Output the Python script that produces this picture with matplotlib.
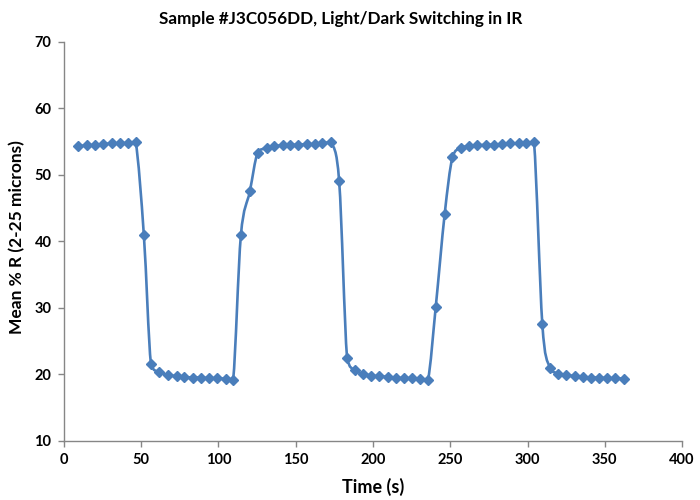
import numpy as np
import matplotlib.pyplot as plt
from matplotlib.path import Path
from matplotlib.patches import PathPatch

# time (s)
time_s = [9.2, 14.7, 20.1, 25.4, 30.9, 36.2, 41.2, 46.4,
          51.7, 56.3,
          61.6, 67.1, 72.9, 77.8, 83.2, 88.4, 93.8, 99.2, 104.6, 109.5,
          114.5, 120.3, 125.3,
          131.1, 136.0, 141.5, 146.6, 151.6, 157.0, 162.4, 167.3, 172.7,
          178.1, 183.2,
          188.2, 193.6, 198.6, 203.9, 209.4, 214.7, 219.9, 225.3, 230.3, 235.6,
          240.6, 246.4, 251.4,
          256.8, 262.2, 267.6, 273.0, 278.3, 283.5, 288.9, 294.3, 299.3, 304.2,
          309.6, 314.4,
          320.0, 325.2, 330.5, 335.9, 341.3, 346.2, 351.7, 356.9, 362.2]

# mean % R (2-25 microns)
mean_r = [54.3, 54.4, 54.5, 54.6, 54.7, 54.7, 54.8, 54.9,
          40.9, 21.5,
          20.3, 19.9, 19.7, 19.6, 19.5, 19.5, 19.4, 19.4, 19.3, 19.2,
          40.9, 47.5, 53.3,
          54.0, 54.3, 54.4, 54.5, 54.5, 54.6, 54.6, 54.7, 54.9,
          49.0, 22.5,
          20.6, 20.1, 19.8, 19.7, 19.6, 19.5, 19.4, 19.4, 19.3, 19.2,
          30.1, 44.1, 52.6,
          54.0, 54.3, 54.4, 54.5, 54.5, 54.6, 54.7, 54.7, 54.8, 54.9,
          27.5, 21.0,
          20.1, 19.9, 19.7, 19.6, 19.5, 19.5, 19.4, 19.4, 19.3]

blue = '#4A7EBB'
grey = '#868686'
font = 'Lato'

fig = plt.figure(figsize=(7, 5), dpi=100)
ax = fig.add_axes([0.0914, 0.1186, 0.8829, 0.798])

# smoothed line like Excel: cubic Bezier through the points,
# control points kept inside each segment so it does not overshoot
p = np.column_stack([time_s, mean_r])
verts = [p[0]]
codes = [Path.MOVETO]
for i in range(len(p) - 1):
    p0 = p[i - 1] if i > 0 else p[i]
    p1, p2 = p[i], p[i + 1]
    p3 = p[i + 2] if i + 2 < len(p) else p[i + 1]
    c1 = p1 + (p2 - p0) / 6
    c2 = p2 - (p3 - p1) / 6
    lo, hi = np.minimum(p1, p2), np.maximum(p1, p2)
    c1 = np.clip(c1, lo, hi)
    c2 = np.clip(c2, lo, hi)
    verts += [c1, c2, p2]
    codes += [Path.CURVE4] * 3
ax.add_patch(PathPatch(Path(verts, codes), facecolor='none', edgecolor=blue,
                       lw=1.9, capstyle='round', joinstyle='round'))
ax.plot(time_s, mean_r, linestyle='none', marker='D', ms=4.6, color=blue,
        markeredgecolor=blue)

ax.set_xlim(0, 400)
ax.set_ylim(10, 70)
ax.set_xticks(range(0, 401, 50))
ax.set_yticks(range(10, 71, 10))

for s in ['top', 'right']:
    ax.spines[s].set_visible(False)
for s in ['left', 'bottom']:
    ax.spines[s].set_color(grey)
    ax.spines[s].set_linewidth(1.0)
ax.tick_params(direction='out', length=4, width=1, color=grey,
               labelsize=10.5, pad=5)
for lab in ax.get_xticklabels() + ax.get_yticklabels():
    lab.set_fontfamily(font)
    lab.set_fontweight('bold')

ax.set_xlabel('Time (s)', fontsize=13, fontweight='bold', family=font, labelpad=8)
ax.set_ylabel('Mean % R (2-25 microns)', fontsize=12.5, fontweight='bold',
              family=font, labelpad=4)
ax.yaxis.set_label_coords(-0.063, 0.51)
fig.suptitle('Sample #J3C056DD, Light/Dark Switching in IR', x=0.486, y=0.978,
             fontsize=12.3, fontweight='bold', family=font)

fig.savefig('out.png', dpi=100)
